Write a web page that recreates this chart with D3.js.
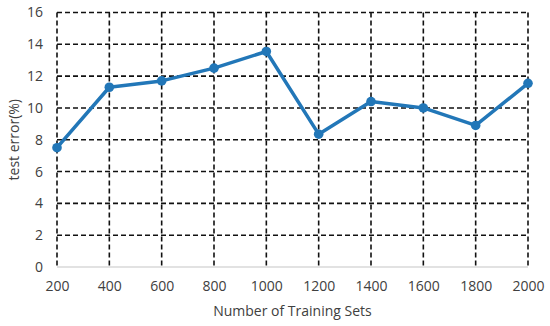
<!DOCTYPE html>
<html lang="en">
<head>
<meta charset="UTF-8">
<title>Test error</title>
<script src="https://cdn.jsdelivr.net/npm/d3@7"></script>
<style>
  body { margin: 0; background: #fff; }
  text { font-family: "Open Sans", sans-serif; fill: #404040; }
</style>
</head>
<body>
<div id="chart"></div>
<script>
// data
const trainingSets = [200, 400, 600, 800, 1000, 1200, 1400, 1600, 1800, 2000];
const testError = [7.5, 11.3, 11.7, 12.5, 13.55, 8.35, 10.4, 10.0, 8.9, 11.55];
const yTicks = [0, 2, 4, 6, 8, 10, 12, 14, 16];

const W = 550, H = 326;
const margin = {top: 12.5, right: 22, bottom: 59, left: 57};
const width = W - margin.left - margin.right,
      height = H - margin.top - margin.bottom;

const svg = d3.select("#chart").append("svg")
    .attr("width", W).attr("height", H);
const g = svg.append("g")
    .attr("transform", `translate(${margin.left},${margin.top})`);

const x = d3.scalePoint().domain(trainingSets).range([0, width]);
const y = d3.scaleLinear().domain([0, 16]).range([height, 0]);

// horizontal dashed grid (skip 0, that is the axis line)
g.selectAll(".hgrid")
  .data(yTicks.filter(d => d > 0))
  .join("line")
    .attr("x1", 0).attr("x2", width)
    .attr("y1", d => y(d)).attr("y2", d => y(d))
    .attr("stroke", "#111").attr("stroke-width", 1.6)
    .attr("stroke-dasharray", "5,3");

// vertical dashed grid
g.selectAll(".vgrid")
  .data(trainingSets)
  .join("line")
    .attr("x1", d => x(d)).attr("x2", d => x(d))
    .attr("y1", 0).attr("y2", height)
    .attr("stroke", "#111").attr("stroke-width", 1.6)
    .attr("stroke-dasharray", "5,3");

// bottom axis line
g.append("line")
  .attr("x1", 0).attr("x2", width)
  .attr("y1", height).attr("y2", height)
  .attr("stroke", "#d9d9d9").attr("stroke-width", 1.5);

// x axis labels
const xAxis = g.append("g")
  .attr("transform", `translate(0,${height})`)
  .call(d3.axisBottom(x).tickSize(0).tickPadding(14));
xAxis.select(".domain").remove();
xAxis.selectAll("text").attr("font-size", "14px").attr("font-family", null);

// y axis labels
const yAxis = g.append("g")
  .call(d3.axisLeft(y).tickValues(yTicks).tickSize(0).tickPadding(14));
yAxis.select(".domain").remove();
yAxis.selectAll("text").attr("font-size", "14px").attr("font-family", null);

// line + markers
const line = d3.line()
  .x((d, i) => x(trainingSets[i]))
  .y(d => y(d));

g.append("path")
  .datum(testError)
  .attr("fill", "none")
  .attr("stroke", "#2277b8")
  .attr("stroke-width", 3.5)
  .attr("stroke-linejoin", "round")
  .attr("d", line);

g.selectAll(".dot")
  .data(testError)
  .join("circle")
    .attr("cx", (d, i) => x(trainingSets[i]))
    .attr("cy", d => y(d))
    .attr("r", 4.8)
    .attr("fill", "#2277b8");

// axis titles
svg.append("text")
  .attr("x", margin.left + width / 2)
  .attr("y", 316)
  .attr("text-anchor", "middle")
  .attr("font-size", "14px")
  .text("Number of Training Sets");

svg.append("text")
  .attr("transform", `translate(19,${margin.top + height / 2}) rotate(-90)`)
  .attr("text-anchor", "middle")
  .attr("font-size", "14px")
  .text("test error(%)");
</script>
</body>
</html>
